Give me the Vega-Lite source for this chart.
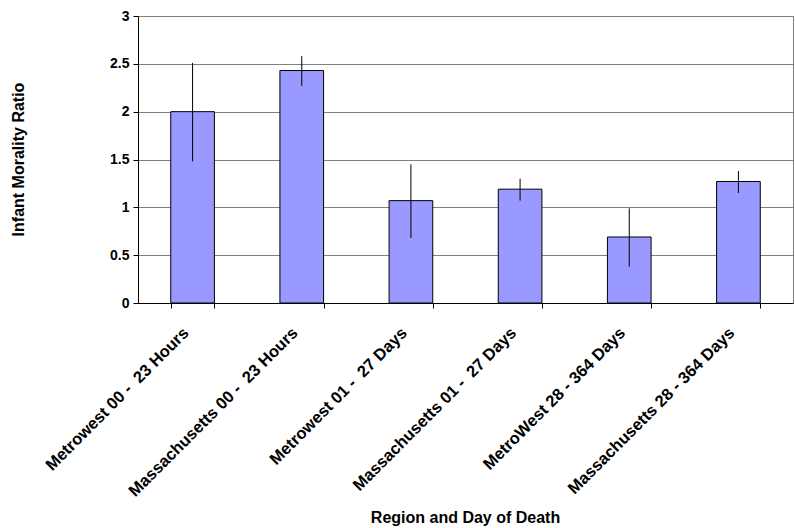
{
  "$schema": "https://vega.github.io/schema/vega-lite/v6.json",
  "autosize": "none",
  "width": 655,
  "height": 287,
  "padding": {"left": 138, "top": 16, "right": 2, "bottom": 225},
  "background": "white",
  "config": {
    "font": "Liberation Sans",
    "view": {"stroke": "#808080", "strokeWidth": 1}
  },
  "data": {
    "values": [
      {"cat": "Metrowest 00 - \u00a023 Hours", "ratio": 2.0, "lo": 1.48, "hi": 2.51},
      {"cat": "Massachusetts 00 - \u00a023 Hours", "ratio": 2.43, "lo": 2.27, "hi": 2.58},
      {"cat": "Metrowest 01 - \u00a027 Days", "ratio": 1.07, "lo": 0.68, "hi": 1.45},
      {"cat": "Massachusetts 01 - \u00a027 Days", "ratio": 1.19, "lo": 1.07, "hi": 1.30},
      {"cat": "MetroWest 28 - 364 Days", "ratio": 0.69, "lo": 0.38, "hi": 0.99},
      {"cat": "Massachusetts 28 - 364 Days", "ratio": 1.27, "lo": 1.15, "hi": 1.38}
    ]
  },
  "encoding": {
    "x": {
      "field": "cat",
      "type": "nominal",
      "sort": null,
      "scale": {"paddingInner": 0.6, "paddingOuter": 0.3},
      "axis": {
        "title": "Region and Day of Death",
        "titleFont": "Liberation Sans",
        "titleFontSize": 16,
        "titleFontWeight": "bold",
        "titleColor": "black",
        "titleX": 327,
        "titleY": 214,
        "titleBaseline": "middle",
        "labelAngle": -45,
        "labelAlign": "right",
        "labelBaseline": "middle",
        "labelFontSize": 16.5,
        "labelFontWeight": "bold",
        "labelColor": "black",
        "labelPadding": 22,
        "labelOffset": -7,
        "labelLimit": 300,
        "tickBand": "extent",
        "tickColor": "black",
        "tickSize": 5,
        "domainColor": "black",
        "grid": false
      }
    }
  },
  "layer": [
    {
      "mark": {"type": "bar", "fill": "#9999FF", "stroke": "black", "strokeWidth": 1},
      "encoding": {
        "y": {
          "field": "ratio",
          "type": "quantitative",
          "scale": {"domain": [0, 3], "nice": false},
          "axis": {
            "title": "Infant Morality Ratio",
            "titleFont": "Liberation Sans",
            "titleFontSize": 16,
            "titleFontWeight": "bold",
            "titleColor": "black",
            "titleX": -120,
            "titleY": 143,
            "titleAngle": -90,
            "titleBaseline": "middle",
            "titleAlign": "center",
            "values": [0, 0.5, 1, 1.5, 2, 2.5, 3],
            "format": "~g",
            "labelFontSize": 14,
            "labelFontWeight": "bold",
            "labelColor": "black",
            "labelPadding": 4,
            "tickColor": "black",
            "tickSize": 5,
            "domainColor": "black",
            "gridColor": "#808080",
            "gridOpacity": 1,
            "grid": true
          }
        }
      }
    },
    {
      "mark": {"type": "rule", "color": "black", "strokeWidth": 1},
      "encoding": {
        "y": {"field": "lo", "type": "quantitative"},
        "y2": {"field": "hi"}
      }
    }
  ]
}
